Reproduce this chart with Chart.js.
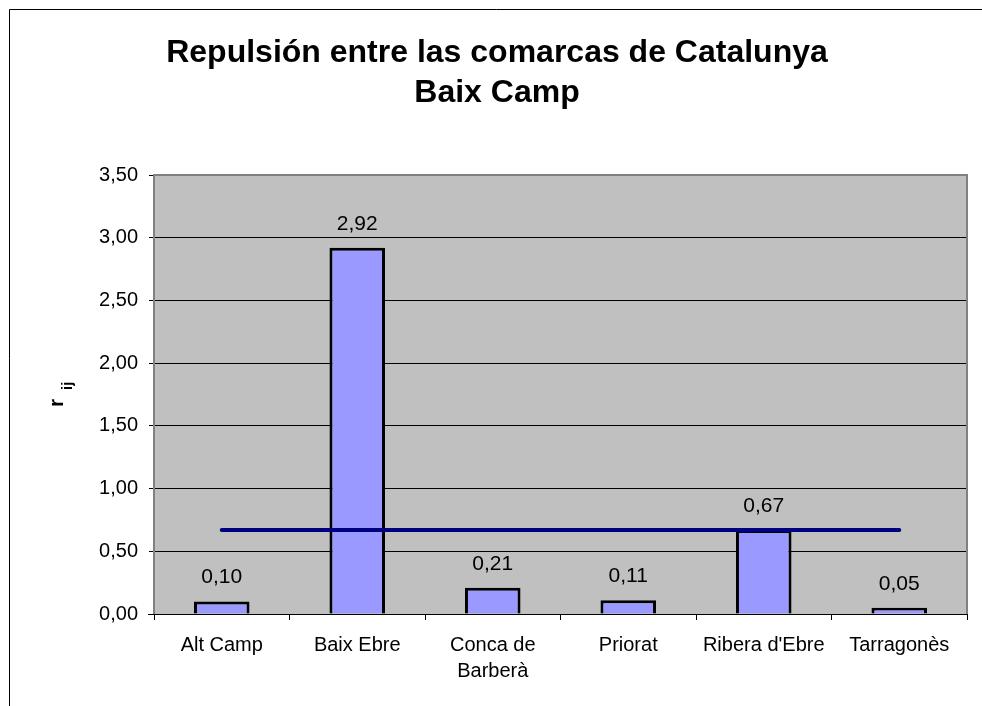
<!DOCTYPE html>
<html>
<head>
<meta charset="utf-8">
<script src="https://cdn.jsdelivr.net/npm/chart.js@4/dist/chart.umd.min.js"></script>
<style>
html,body{margin:0;padding:0;background:#fff;}
canvas{display:block;}
</style>
</head>
<body>
<canvas id="c" width="982" height="706"></canvas>
<script>
const titleLines = ['Repulsión entre las comarcas de Catalunya', 'Baix Camp'];
const categories = ['Alt Camp', 'Baix Ebre', ['Conca de', 'Barberà'], 'Priorat', "Ribera d'Ebre", 'Tarragonès'];
const values = [0.10, 2.92, 0.21, 0.11, 0.67, 0.05];
const meanLine = [0.67, 0.67, 0.67, 0.67, 0.67, 0.67];
const yTickValues = [0, 0.5, 1, 1.5, 2, 2.5, 3, 3.5];
const yTickLabels = ['0,00', '0,50', '1,00', '1,50', '2,00', '2,50', '3,00', '3,50'];
const yAxisTitle = 'r';
const yAxisSub = 'ij';

const FONT = "'Liberation Sans', Arial, sans-serif";

const decorPlugin = {
  id: 'decor',
  beforeDraw(chart) {
    const ctx = chart.ctx, a = chart.chartArea;
    ctx.save();
    ctx.fillStyle = '#fff';
    ctx.fillRect(0, 0, chart.width, chart.height);
    ctx.fillStyle = '#c0c0c0';
    ctx.fillRect(a.left, a.top, a.right - a.left, a.bottom - a.top);
    // outer frame
    ctx.strokeStyle = '#000';
    ctx.lineWidth = 1;
    ctx.beginPath();
    ctx.moveTo(9.5, chart.height + 5);
    ctx.lineTo(9.5, 9.5);
    ctx.lineTo(chart.width + 5, 9.5);
    ctx.stroke();
    // title
    ctx.fillStyle = '#000';
    ctx.font = 'bold 32px ' + FONT;
    ctx.textAlign = 'center';
    ctx.textBaseline = 'alphabetic';
    ctx.fillText(titleLines[0], 497, 62);
    ctx.fillText(titleLines[1], 497, 102);
    // y axis title
    ctx.translate(63, 407);
    ctx.rotate(-Math.PI / 2);
    ctx.textAlign = 'left';
    ctx.font = 'bold 21px ' + FONT;
    ctx.fillText(yAxisTitle, 0, 0);
    ctx.font = 'bold 15px ' + FONT;
    ctx.fillText(yAxisSub, 17, 9);
    ctx.restore();
  },
  afterDraw(chart) {
    const ctx = chart.ctx, a = chart.chartArea;
    ctx.save();
    ctx.strokeStyle = '#808080';
    ctx.lineWidth = 2;
    ctx.beginPath();
    ctx.moveTo(a.left, a.bottom);
    ctx.lineTo(a.left, a.top);
    ctx.lineTo(a.right, a.top);
    ctx.lineTo(a.right, a.bottom);
    ctx.stroke();
    ctx.strokeStyle = '#000';
    ctx.lineWidth = 1;
    ctx.beginPath();
    ctx.moveTo(a.left - 6, Math.round(a.bottom) + 0.5);
    ctx.lineTo(a.right + 1, Math.round(a.bottom) + 0.5);
    ctx.stroke();
    // data labels
    const meta = chart.getDatasetMeta(0);
    ctx.fillStyle = '#000';
    ctx.font = '21px ' + FONT;
    ctx.textAlign = 'center';
    ctx.textBaseline = 'alphabetic';
    meta.data.forEach((el, i) => {
      ctx.fillText(values[i].toFixed(2).replace('.', ','), el.x, el.y - 18);
    });
    ctx.restore();
  }
};

new Chart(document.getElementById('c'), {
  type: 'bar',
  data: {
    labels: categories,
    datasets: [
      {
        type: 'bar',
        data: values,
        backgroundColor: '#9999ff',
        borderColor: '#000',
        borderWidth: 3,
        borderSkipped: 'bottom',
        categoryPercentage: 1,
        barPercentage: 0.41,
        order: 2
      },
      {
        type: 'line',
        data: meanLine,
        borderColor: '#000080',
        borderWidth: 4,
        pointRadius: 0,
        fill: false,
        tension: 0,
        borderCapStyle: 'round',
        order: 0
      }
    ]
  },
  options: {
    responsive: false,
    animation: false,
    devicePixelRatio: 1,
    layout: { padding: { left: 0, right: 15, top: 175, bottom: 0 } },
    plugins: {
      legend: { display: false },
      title: { display: false },
      tooltip: { enabled: false }
    },
    scales: {
      x: {
        offset: true,
        grid: { offset: true, drawOnChartArea: false, drawTicks: true, tickLength: 6, color: '#000', tickColor: '#000' },
        border: { display: true, color: '#000', width: 1 },
        ticks: {
          color: '#000',
          font: { family: FONT, size: 20, lineHeight: 1.3 },
          padding: 12,
          maxRotation: 0,
          minRotation: 0,
          autoSkip: false
        },
        afterFit(scale) { scale.height = 92; }
      },
      y: {
        min: 0,
        max: 3.5,
        afterBuildTicks(scale) { scale.ticks = yTickValues.map(v => ({ value: v })); },
        grid: { color: '#000', lineWidth: 1, drawTicks: true, tickLength: 5, tickColor: '#000' },
        border: { display: true, color: '#808080', width: 2 },
        ticks: {
          color: '#000',
          font: { family: FONT, size: 20 },
          padding: 11,
          callback(value, index) { return yTickLabels[index]; }
        },
        afterFit(scale) { scale.width = 154; }
      }
    }
  },
  plugins: [decorPlugin]
});
</script>
</body>
</html>
